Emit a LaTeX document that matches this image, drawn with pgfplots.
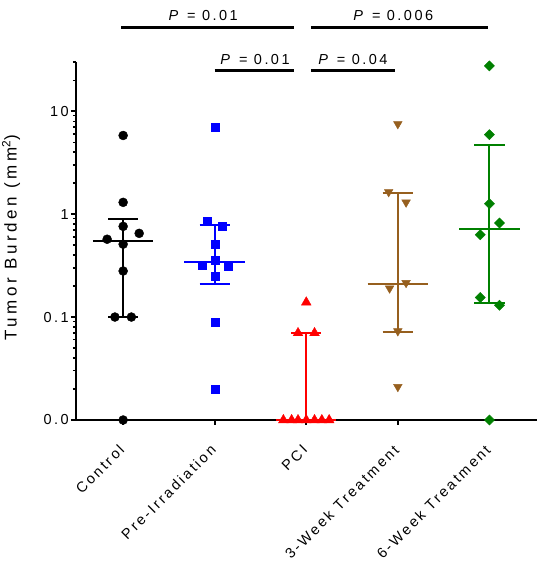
\documentclass[border=0pt]{standalone}
\usepackage{fontspec}
\setmainfont{Liberation Sans}[LetterSpace=17]
\newfontfamily\ylabfont{Liberation Sans}[LetterSpace=21]
\usepackage{pgfplots}
\pgfplotsset{compat=1.18}
\definecolor{cBlack}{RGB}{0,0,0}
\definecolor{cBlue}{RGB}{0,0,255}
\definecolor{cRed}{RGB}{255,0,0}
\definecolor{cBrown}{RGB}{150,95,30}
\definecolor{cGreen}{RGB}{0,128,0}
\begin{document}
\begin{tikzpicture}
\path[use as bounding box] (-76pt,-160pt) rectangle (471pt,420pt);
\begin{axis}[
  at={(0,0)}, anchor=south west,
  scale only axis, width=461pt, height=358pt,
  xmin=-0.515, xmax=4.52,
  ymode=log, ymin=0.01, ymax=30,
  clip=false,
  axis lines=left,
  axis line style={-, line width=2pt, black},
  xtick={0,1,2,3,4},
  xticklabels={Control,Pre-Irradiation,PCI,3-Week Treatment,6-Week Treatment},
  ytick={0.01,0.1,1,10},
  yticklabels={\mbox{0.0},\mbox{0.1},\mbox{1},\mbox{10}},
  minor ytick={0.02,0.03,0.04,0.05,0.06,0.07,0.08,0.09,0.2,0.3,0.4,0.5,0.6,0.7,0.8,0.9,2,3,4,5,6,7,8,9,20,30},
  tick align=outside,
  major tick length=5pt, minor tick length=3pt,
  every tick/.style={line width=1.6pt, black},
  minor tick style={line width=1.2pt},
  tick label style={font=\fontsize{14.5}{16}\selectfont},
  x tick label style={rotate=45, anchor=east, inner sep=2pt},
  xticklabel shift=21pt,
  y tick label style={inner sep=2pt},
  ylabel={\ylabfont Tumor Burden (mm\textsuperscript{2})},
  ylabel style={font=\fontsize{17}{19}\selectfont, at={(axis description cs:-0.141,0.51)}, anchor=center},
]
% Control
\addplot[only marks, mark=*, mark size=4.5pt, color=cBlack] coordinates {
 (0,5.8) (0,1.3) (0,0.76) (0.175,0.65) (-0.175,0.57) (0,0.51) (0,0.28) (-0.09,0.1) (0.09,0.1) (0,0.01)};
% Pre-Irradiation
\addplot[only marks, mark=square*, mark size=4pt, color=cBlue] coordinates {
 (1,7.0) (0.92,0.86) (1.08,0.77) (1,0.51) (1,0.36) (0.86,0.32) (1.15,0.31) (1,0.25) (1,0.09) (1,0.02)};
% PCI
\addplot[only marks, mark=triangle*, mark size=5.6pt, color=cRed] coordinates {
 (2,0.139) (1.91,0.07) (2.09,0.07) (1.75,0.01) (1.84,0.01) (1.91,0.01) (2,0.01) (2.09,0.01) (2.17,0.01) (2.25,0.01)};
% 3-Week
\addplot[only marks, mark=triangle*, mark size=5pt, mark options={rotate=180}, color=cBrown] coordinates {
 (3,7.5) (2.9,1.64) (3.09,1.3) (3.09,0.215) (2.91,0.19) (3,0.073) (3,0.021)};
% 6-Week
\addplot[only marks, mark=square*, mark size=3.6pt, mark options={rotate=45}, color=cGreen] coordinates {
 (4,27.5) (4,5.9) (4,1.26) (4.11,0.82) (3.9,0.63) (3.9,0.155) (4.11,0.13) (4,0.01)};
% medians and interquartile ranges
\addplot[cBlack, line width=2.2pt] coordinates {(-0.33,0.55) (0.33,0.55)};
\addplot[cBlack, line width=2.2pt] coordinates {(0,0.1) (0,0.9)};
\addplot[cBlack, line width=2.2pt] coordinates {(-0.165,0.9) (0.165,0.9)};
\addplot[cBlack, line width=2.2pt] coordinates {(-0.165,0.1) (0.165,0.1)};
\addplot[cBlue, line width=2.2pt] coordinates {(0.67,0.345) (1.33,0.345)};
\addplot[cBlue, line width=2.2pt] coordinates {(1,0.21) (1,0.79)};
\addplot[cBlue, line width=2.2pt] coordinates {(0.835,0.79) (1.165,0.79)};
\addplot[cBlue, line width=2.2pt] coordinates {(0.835,0.21) (1.165,0.21)};
\addplot[cRed, line width=2.2pt] coordinates {(1.67,0.01) (2.33,0.01)};
\addplot[cRed, line width=2.2pt] coordinates {(2,0.01) (2,0.07)};
\addplot[cRed, line width=2.2pt] coordinates {(1.835,0.07) (2.165,0.07)};
\addplot[cBrown, line width=2.2pt] coordinates {(2.67,0.21) (3.33,0.21)};
\addplot[cBrown, line width=2.2pt] coordinates {(3,0.071) (3,1.61)};
\addplot[cBrown, line width=2.2pt] coordinates {(2.835,1.61) (3.165,1.61)};
\addplot[cBrown, line width=2.2pt] coordinates {(2.835,0.071) (3.165,0.071)};
\addplot[cGreen, line width=2.2pt] coordinates {(3.67,0.72) (4.33,0.72)};
\addplot[cGreen, line width=2.2pt] coordinates {(4,0.137) (4,4.7)};
\addplot[cGreen, line width=2.2pt] coordinates {(3.835,4.7) (4.165,4.7)};
\addplot[cGreen, line width=2.2pt] coordinates {(3.835,0.137) (4.165,0.137)};
% significance bars
\draw[line width=2.3pt] (axis cs:-0.02,64.8) -- (axis cs:1.87,64.8);
\draw[line width=2.3pt] (axis cs:1.0,24.8) -- (axis cs:1.87,24.8);
\draw[line width=2.3pt] (axis cs:2.05,24.8) -- (axis cs:2.97,24.8);
\draw[line width=2.3pt] (axis cs:2.05,64.8) -- (axis cs:3.99,64.8);
\node[font=\fontsize{14.5}{16}\selectfont] at (axis cs:0.874,85.6) {\textit{P} = 0.01};
\node[font=\fontsize{14.5}{16}\selectfont] at (axis cs:1.44,31.5) {\textit{P} = 0.01};
\node[font=\fontsize{14.5}{16}\selectfont] at (axis cs:2.51,31.5) {\textit{P} = 0.04};
\node[font=\fontsize{14.5}{16}\selectfont] at (axis cs:2.95,85.6) {\textit{P} = 0.006};
\end{axis}
\end{tikzpicture}
\end{document}
